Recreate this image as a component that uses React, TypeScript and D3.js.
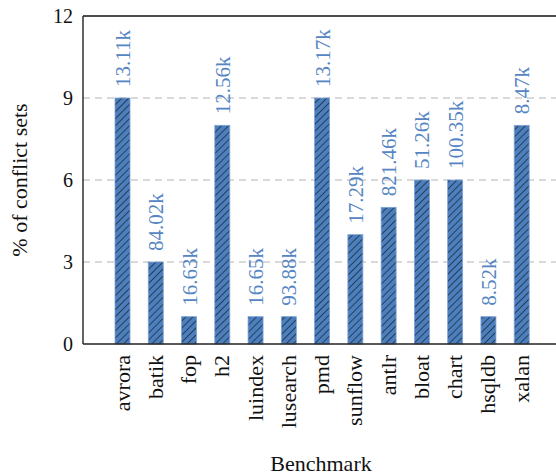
import React from "react";
import * as d3 from "d3";

const categories = ["avrora", "batik", "fop", "h2", "luindex", "lusearch", "pmd", "sunflow", "antlr", "bloat", "chart", "hsqldb", "xalan"];
const values = [9, 3, 1, 8, 1, 1, 9, 4, 5, 6, 6, 1, 8];
const barLabels = ["13.11k", "84.02k", "16.63k", "12.56k", "16.65k", "93.88k", "13.17k", "17.29k", "821.46k", "51.26k", "100.35k", "8.52k", "8.47k"];
const yTicks = [0, 3, 6, 9, 12];
const gridTicks = [3, 6, 9];

const W = 556;
const H = 476;
const left = 83;
const right = 561;
const top = 16;
const bottom = 344;
const font = "'Liberation Serif', 'Times New Roman', serif";
const barColor = "#4c7fbe";
const labelColor = "#5585c3";

export default function App() {
  const y = d3.scaleLinear().domain([0, 12]).range([bottom, top]);
  const x = d3.scalePoint<string>().domain(categories).range([122.5, 521.7]);
  const barW = 15;

  return (
    <svg width={W} height={H} style={{ position: "absolute", left: 0, top: 0, background: "#fff" }}>
      <defs>
        <pattern id="hatch" patternUnits="userSpaceOnUse" width={5} height={5} patternTransform="rotate(45)">
          <rect width={5} height={5} fill={barColor} />
          <line x1={0} y1={0} x2={0} y2={5} stroke="#111" strokeWidth={1.2} />
        </pattern>
      </defs>
      {/* gridlines */}
      {gridTicks.map((t) => (
        <line key={t} x1={left} x2={right} y1={y(t)} y2={y(t)} stroke="#b3b3b3" strokeWidth={1} strokeDasharray="7,5" />
      ))}
      {/* bars */}
      {categories.map((c, i) => {
        const cx = x(c)!;
        const yt = y(values[i]);
        return (
          <g key={c}>
            <rect x={cx - barW / 2} y={yt} width={barW} height={bottom - yt} fill="url(#hatch)" stroke="#7fa3d6" strokeWidth={0.8} />
            <text
              transform={`translate(${cx + 7.5},${yt - 11}) rotate(-90)`}
              fontFamily={font}
              fontSize={21}
              fill={labelColor}
              textAnchor="start"
            >
              {barLabels[i]}
            </text>
            <text
              transform={`translate(${cx + 7},${355}) rotate(-90)`}
              fontFamily={font}
              fontSize={22}
              fill="#111"
              textAnchor="end"
            >
              {c}
            </text>
          </g>
        );
      })}
      {/* frame */}
      <line x1={left} x2={right} y1={top} y2={top} stroke="#111" strokeWidth={1.4} />
      <line x1={left} x2={left} y1={top} y2={bottom} stroke="#222" strokeWidth={1.4} />
      <line x1={right} x2={right} y1={top} y2={bottom} stroke="#222" strokeWidth={1.4} />
      <line x1={left} x2={right} y1={bottom} y2={bottom} stroke="#222" strokeWidth={1.4} />
      {/* y ticks */}
      {yTicks.map((t) => (
        <text key={t} x={73} y={y(t)} dy="0.35em" textAnchor="end" fontFamily={font} fontSize={20} fill="#111">
          {t}
        </text>
      ))}
      {/* axis titles */}
      <text x={321} y={471} textAnchor="middle" fontFamily={font} fontSize={22} fill="#111">
        Benchmark
      </text>
      <text transform={`translate(27,180) rotate(-90)`} textAnchor="middle" fontFamily={font} fontSize={22} fill="#111">
        % of conflict sets
      </text>
    </svg>
  );
}
